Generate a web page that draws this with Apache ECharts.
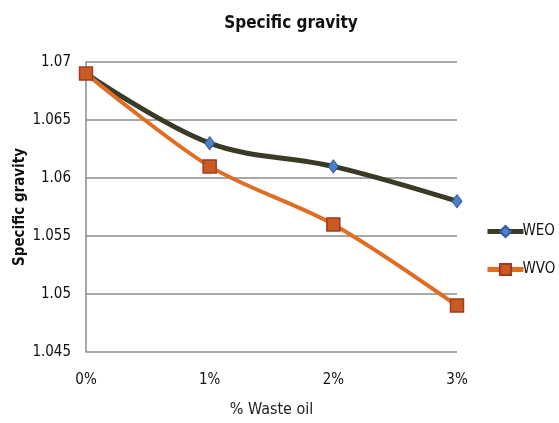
<!DOCTYPE html>
<html>
<head>
<meta charset="utf-8">
<script src="https://cdn.jsdelivr.net/npm/echarts@6/dist/echarts.min.js"></script>
<style>
  html, body { margin: 0; padding: 0; background: #fff; }
  #chart { width: 559px; height: 423px; }
</style>
</head>
<body>
<div id="chart"></div>
<script>
// Specific gravity of blends by waste oil content
const categories = ['0%', '1%', '2%', '3%'];
const weo = [1.069, 1.063, 1.061, 1.058];
const wvo = [1.069, 1.061, 1.056, 1.049];
const yTicks = { min: 1.045, max: 1.07, interval: 0.005 };

const FONT = '"DejaVu Sans Condensed", "Liberation Sans Narrow", "Open Sans", sans-serif';

const chart = echarts.init(document.getElementById('chart'));
chart.setOption({
  backgroundColor: '#ffffff',
  animation: false,
  textStyle: { fontFamily: FONT },
  title: {
    text: 'Specific gravity',
    left: 286, top: 10, textAlign: 'center',
    textStyle: { fontFamily: FONT, fontSize: 17, fontWeight: 'bold', color: '#111' }
  },
  legend: {
    orient: 'vertical',
    left: 480, top: 219,
    itemGap: 23,
    itemWidth: 36, itemHeight: 14,
    lineStyle: { width: 5 },
    textStyle: { fontFamily: FONT, fontSize: 15, color: '#111', padding: [0, 0, 0, -6] },
    data: ['WEO', 'WVO']
  },
  grid: { left: 86, right: 102, top: 62, bottom: 71, containLabel: false, outerBoundsMode: 'none' },
  xAxis: {
    type: 'category',
    data: categories,
    boundaryGap: false,
    name: '% Waste oil',
    nameLocation: 'middle',
    nameGap: 50,
    nameTextStyle: { fontFamily: FONT, fontSize: 16, color: '#222' },
    axisLine: { show: false },
    axisTick: { show: false },
    axisLabel: { fontFamily: FONT, fontSize: 15, color: '#111', margin: 21 }
  },
  yAxis: {
    type: 'value',
    min: yTicks.min, max: yTicks.max, interval: yTicks.interval,
    name: 'Specific gravity',
    nameLocation: 'middle',
    nameGap: 58,
    nameMoveOverlap: false,
    nameTextStyle: { fontFamily: FONT, fontSize: 15, fontWeight: 'bold', color: '#111' },
    axisLine: { show: true, lineStyle: { color: '#8a8a8a', width: 1.5 } },
    axisTick: { show: false },
    axisLabel: {
      fontFamily: FONT, fontSize: 15, color: '#111', margin: 15,
      formatter: v => String(parseFloat(v.toFixed(3)))
    },
    splitLine: { show: true, lineStyle: { color: '#8a8a8a', width: 1.5 } }
  },
  series: [
    {
      name: 'WEO',
      type: 'line',
      data: weo,
      smooth: 0.35,
      symbol: 'diamond',
      symbolSize: [10, 13],
      lineStyle: { color: '#3a3a26', width: 5 },
      itemStyle: { color: '#4f7fc4', borderColor: '#2f5a9a', borderWidth: 1 },
      z: 2
    },
    {
      name: 'WVO',
      type: 'line',
      data: wvo,
      smooth: 0.3,
      symbol: 'rect',
      symbolSize: 13,
      lineStyle: { color: '#df6e22', width: 4 },
      itemStyle: { color: '#c95a20', borderColor: '#a23a28', borderWidth: 1.5 },
      z: 3
    }
  ]
});
</script>
</body>
</html>
